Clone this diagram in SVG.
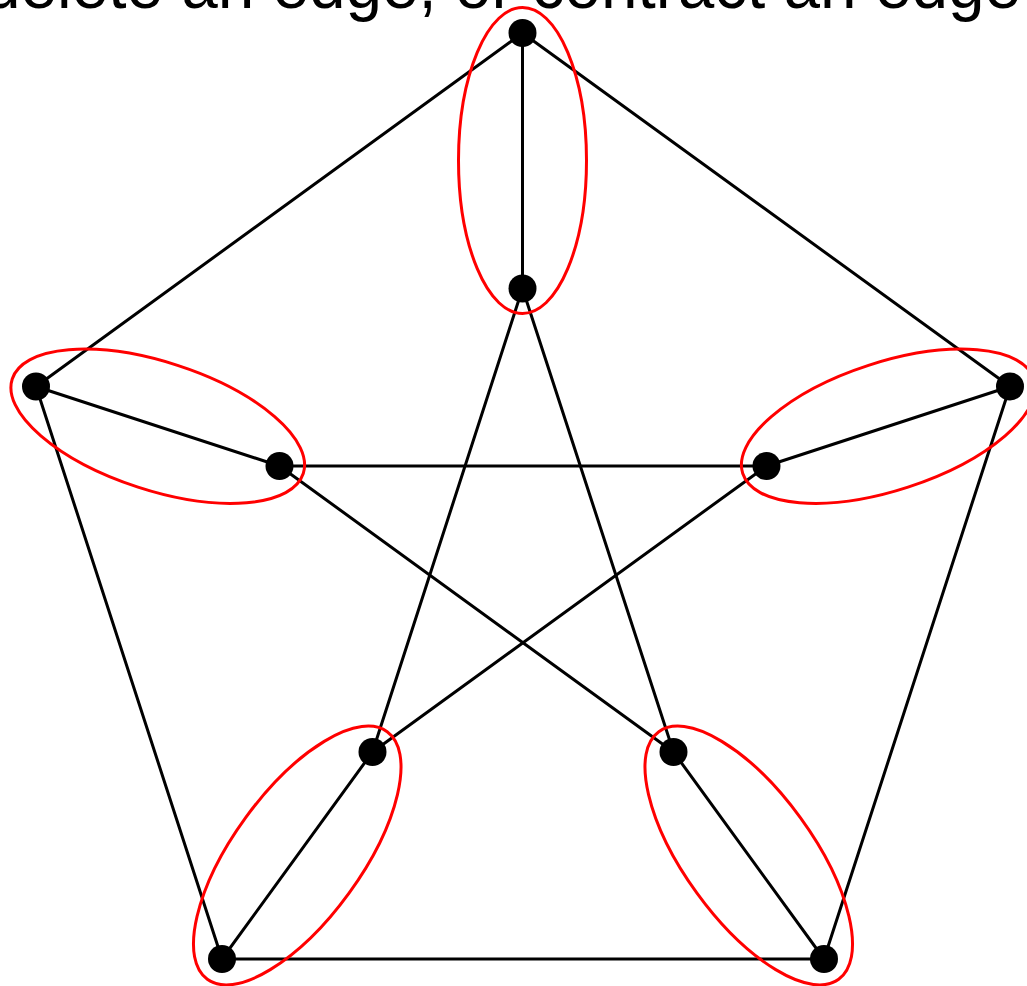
<svg xmlns="http://www.w3.org/2000/svg" width="1027" height="986" viewBox="0 0 1027 986">
<style>
.e{stroke:#000;stroke-width:3;fill:none;stroke-linecap:round}
.n{fill:#000}
.c{fill:none;stroke:#ff0000;stroke-width:3}
.t{font-family:"Liberation Sans",Arial,sans-serif;font-size:68px;fill:#000}
</style>
<rect width="1027" height="986" fill="#fff"/>
<text class="t" x="-16" y="8" textLength="1037" lengthAdjust="spacingAndGlyphs">delete an edge, or contract an edge</text>
<g id="connectors">
<line class="e" x1="522.5" y1="33" x2="1010" y2="386.5"/>
<line class="e" x1="1010" y1="386.5" x2="824" y2="959"/>
<line class="e" x1="824" y1="959" x2="222" y2="959"/>
<line class="e" x1="222" y1="959" x2="36" y2="386.5"/>
<line class="e" x1="36" y1="386.5" x2="522.5" y2="33"/>
<line class="e" x1="522.5" y1="33" x2="522.5" y2="288.5"/>
<line class="e" x1="36" y1="386.5" x2="279.5" y2="466"/>
<line class="e" x1="1010" y1="386.5" x2="766.5" y2="466"/>
<line class="e" x1="222" y1="959" x2="372.5" y2="752"/>
<line class="e" x1="824" y1="959" x2="673.5" y2="752"/>
<line class="e" x1="522.5" y1="288.5" x2="372.5" y2="752"/>
<line class="e" x1="522.5" y1="288.5" x2="673.5" y2="752"/>
<line class="e" x1="279.5" y1="466" x2="766.5" y2="466"/>
<line class="e" x1="279.5" y1="466" x2="673.5" y2="752"/>
<line class="e" x1="766.5" y1="466" x2="372.5" y2="752"/>
</g>
<g id="contractions">
<ellipse id="ell-top" class="c" cx="522.5" cy="160.5" rx="64" ry="153"/>
<ellipse id="ell-left" class="c" cx="157.75" cy="426.25" rx="153" ry="64" transform="rotate(18 157.75 426.25)"/>
<ellipse id="ell-right" class="c" cx="888.25" cy="426.25" rx="153" ry="64" transform="rotate(-18 888.25 426.25)"/>
<ellipse id="ell-bl" class="c" cx="297.25" cy="855.5" rx="153" ry="64" transform="rotate(-54 297.25 855.5)"/>
<ellipse id="ell-br" class="c" cx="748.75" cy="855.5" rx="153" ry="64" transform="rotate(54 748.75 855.5)"/>
</g>
<g id="v-top"><circle class="n" cx="522.5" cy="33" r="14"/></g>
<g id="v-right"><circle class="n" cx="1010" cy="386.5" r="14"/></g>
<g id="v-bottomright"><circle class="n" cx="824" cy="959" r="14"/></g>
<g id="v-bottomleft"><circle class="n" cx="222" cy="959" r="14"/></g>
<g id="v-left"><circle class="n" cx="36" cy="386.5" r="14"/></g>
<g id="v-inner-top"><circle class="n" cx="522.5" cy="288.5" r="14"/></g>
<g id="v-inner-left"><circle class="n" cx="279.5" cy="466" r="14"/></g>
<g id="v-inner-right"><circle class="n" cx="766.5" cy="466" r="14"/></g>
<g id="v-inner-bottomleft"><circle class="n" cx="372.5" cy="752" r="14"/></g>
<g id="v-inner-bottomright"><circle class="n" cx="673.5" cy="752" r="14"/></g>
</svg>
